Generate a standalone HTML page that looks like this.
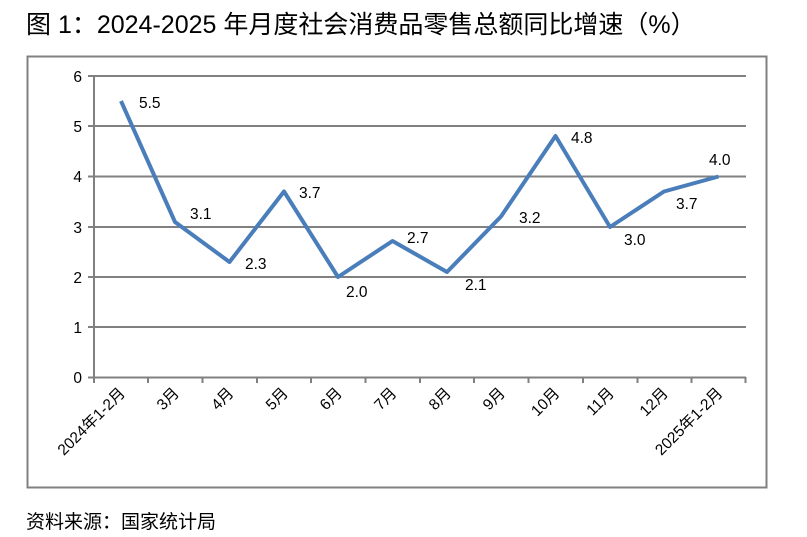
<!DOCTYPE html>
<html><head><meta charset="utf-8"><style>
body{margin:0;background:#fff;width:807px;height:532px;overflow:hidden;font-family:"Liberation Sans","Noto Sans CJK SC",sans-serif;}
</style></head><body>
<svg width="807" height="532" xmlns="http://www.w3.org/2000/svg" font-family="Liberation Sans, Noto Sans CJK SC, sans-serif">
<text x="26" y="33" font-size="25" fill="#000">图 1：2024-2025 年月度社会消费品零售总额同比增速（%）</text>
<rect x="27.5" y="56.5" width="739" height="431" fill="none" stroke="#808080" stroke-width="2"/>
<g stroke="#808080" stroke-width="2">
<line x1="88" y1="76" x2="746" y2="76"/>
<line x1="88" y1="126" x2="746" y2="126"/>
<line x1="88" y1="176.5" x2="746" y2="176.5"/>
<line x1="88" y1="227" x2="746" y2="227"/>
<line x1="88" y1="277" x2="746" y2="277"/>
<line x1="88" y1="327" x2="746" y2="327"/>
<line x1="88" y1="377.5" x2="746" y2="377.5"/>
<line x1="94" y1="76" x2="94" y2="383"/>
<line x1="148" y1="377" x2="148" y2="383"/>
<line x1="202.5" y1="377" x2="202.5" y2="383"/>
<line x1="257" y1="377" x2="257" y2="383"/>
<line x1="311" y1="377" x2="311" y2="383"/>
<line x1="365.5" y1="377" x2="365.5" y2="383"/>
<line x1="420" y1="377" x2="420" y2="383"/>
<line x1="474" y1="377" x2="474" y2="383"/>
<line x1="528.5" y1="377" x2="528.5" y2="383"/>
<line x1="583" y1="377" x2="583" y2="383"/>
<line x1="637.5" y1="377" x2="637.5" y2="383"/>
<line x1="691.5" y1="377" x2="691.5" y2="383"/>
<line x1="745.5" y1="377" x2="745.5" y2="383"/>
</g>
<g font-size="15.5" text-anchor="end" fill="#000">
<text x="82" y="82">6</text><text x="82" y="132">5</text><text x="82" y="182">4</text><text x="82" y="233">3</text><text x="82" y="283">2</text><text x="82" y="333">1</text><text x="82" y="383">0</text>
</g>
<polyline fill="none" stroke="#4a7ebb" stroke-width="4" stroke-linejoin="round" points="121,101 175,222 229.5,262 284,191.5 338,277 392.5,241 447,272 501,216.5 555.5,136 610,227 664,191.5 718.5,176.5"/>
<g font-size="15.5" fill="#000">
<text x="139" y="108">5.5</text>
<text x="190" y="219">3.1</text>
<text x="245" y="269">2.3</text>
<text x="299" y="198">3.7</text>
<text x="346" y="297">2.0</text>
<text x="407" y="243">2.7</text>
<text x="465" y="290">2.1</text>
<text x="519" y="223">3.2</text>
<text x="571" y="143">4.8</text>
<text x="624" y="245">3.0</text>
<text x="676" y="209">3.7</text>
<text x="709" y="165">4.0</text>
</g>
<g font-size="15.5" text-anchor="end" fill="#000">
<text transform="translate(126,394) rotate(-45)">2024年1-2月</text>
<text transform="translate(180,394) rotate(-45)">3月</text>
<text transform="translate(234.5,394) rotate(-45)">4月</text>
<text transform="translate(289,394) rotate(-45)">5月</text>
<text transform="translate(343,394) rotate(-45)">6月</text>
<text transform="translate(397.5,394) rotate(-45)">7月</text>
<text transform="translate(452,394) rotate(-45)">8月</text>
<text transform="translate(506,394) rotate(-45)">9月</text>
<text transform="translate(560.5,394) rotate(-45)">10月</text>
<text transform="translate(615,394) rotate(-45)">11月</text>
<text transform="translate(669,394) rotate(-45)">12月</text>
<text transform="translate(723.5,394) rotate(-45)">2025年1-2月</text>
</g>
<text x="26" y="528" font-size="19" fill="#000">资料来源：国家统计局</text>
</svg>
</body></html>
